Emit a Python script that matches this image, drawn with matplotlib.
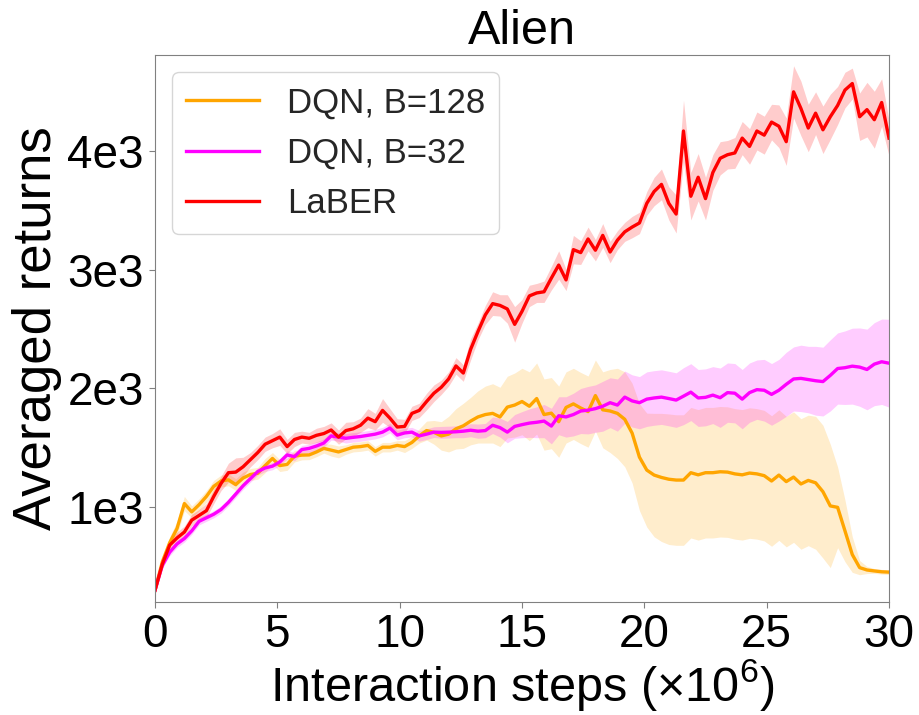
import numpy as np
from matplotlib import pyplot as plt
import matplotlib
matplotlib.rcParams['font.family'] = "sans-serif"
matplotlib.rcParams['font.sans-serif'] = ["Liberation Sans", "DejaVu Sans"]
matplotlib.rcParams['mathtext.fontset'] = 'custom'
matplotlib.rcParams['mathtext.rm'] = 'Liberation Sans'
matplotlib.rcParams['mathtext.it'] = 'Liberation Sans:italic'

### data (evaluation every 0.3M steps)
steps = np.arange(101) * 0.3

dqn128_mean = [300, 540, 700, 820, 1030, 960, 1020, 1090, 1175, 1220,
               1230, 1190, 1245, 1275, 1285, 1350, 1410, 1350, 1360, 1430,
               1438, 1440, 1465, 1495, 1480, 1465, 1485, 1505, 1510, 1520,
               1470, 1505, 1505, 1520, 1510, 1545, 1600, 1645, 1630, 1600,
               1615, 1660, 1685, 1725, 1760, 1780, 1790, 1760, 1843, 1860,
               1890, 1850, 1915, 1780, 1792, 1720, 1840, 1870, 1835, 1805,
               1940, 1820, 1810, 1790, 1740, 1624, 1421, 1312, 1270, 1250,
               1235, 1228, 1228, 1290, 1272, 1290, 1290, 1298, 1295, 1280,
               1272, 1287, 1280, 1265, 1220, 1270, 1215, 1253, 1195, 1225,
               1205, 1130, 1010, 998, 800, 600, 490, 470, 462, 455,
               452]
dqn128_std = [30, 40, 50, 60, 60, 50, 50, 50, 50, 50,
              50, 50, 50, 50, 50, 60, 50, 50, 50, 50,
              40, 40, 40, 40, 50, 50, 40, 40, 40, 40,
              40, 40, 40, 40, 50, 50, 60, 80, 100, 120,
              150, 170, 190, 200, 220, 240, 250, 250, 260, 270,
              280, 290, 300, 300, 300, 300, 300, 300, 300, 300,
              300, 320, 350, 380, 400, 420, 450, 480, 520, 540,
              550, 550, 550, 550, 550, 550, 550, 550, 550, 550,
              550, 550, 550, 550, 550, 550, 550, 550, 550, 550,
              560, 560, 520, 340, 260, 150, 60, 30, 20, 20,
              20]

dqn32_mean = [300, 510, 620, 690, 735, 800, 880, 910, 940, 980,
              1040, 1110, 1180, 1240, 1300, 1330, 1345, 1380, 1440, 1425,
              1485, 1495, 1515, 1540, 1600, 1590, 1580, 1588, 1595, 1605,
              1615, 1632, 1666, 1607, 1625, 1632, 1600, 1615, 1632, 1630,
              1632, 1635, 1640, 1648, 1640, 1645, 1690, 1670, 1632, 1680,
              1695, 1708, 1715, 1725, 1683, 1770, 1760, 1780, 1810, 1817,
              1830, 1850, 1880, 1860, 1927, 1895, 1880, 1910, 1920, 1927,
              1915, 1902, 1935, 1969, 1920, 1925, 1944, 1922, 1965, 1960,
              1910, 1965, 1990, 1985, 1950, 1985, 2035, 2080, 2085, 2075,
              2065, 2058, 2110, 2168, 2175, 2188, 2180, 2160, 2205, 2225,
              2213]
dqn32_std = [20, 25, 30, 30, 30, 30, 30, 30, 30, 30,
             30, 30, 30, 30, 30, 30, 30, 30, 35, 35,
             35, 35, 35, 35, 35, 35, 40, 40, 40, 40,
             40, 40, 40, 40, 40, 40, 45, 45, 45, 50,
             50, 50, 55, 55, 60, 60, 70, 80, 90, 100,
             110, 120, 130, 140, 150, 160, 170, 180, 190, 200,
             200, 210, 210, 220, 220, 220, 220, 230, 230, 230,
             230, 230, 240, 240, 240, 240, 240, 250, 250, 250,
             250, 250, 250, 260, 260, 260, 270, 270, 280, 280,
             290, 290, 300, 300, 310, 320, 330, 340, 350, 360,
             370]

laber_mean = [300, 520, 680, 740, 790, 890, 930, 970, 1090, 1200,
              1290, 1295, 1340, 1400, 1460, 1530, 1560, 1590, 1510, 1570,
              1590, 1580, 1605, 1620, 1650, 1590, 1645, 1660, 1690, 1750,
              1720, 1815, 1750, 1675, 1680, 1790, 1815, 1890, 1960, 2010,
              2080, 2190, 2130, 2330, 2480, 2620, 2715, 2700, 2670, 2540,
              2650, 2780, 2805, 2815, 2930, 3040, 2915, 3170, 3145, 3260,
              3165, 3290, 3150, 3250, 3320, 3360, 3395, 3560, 3660, 3720,
              3560, 3470, 4170, 3620, 3780, 3600, 3820, 3940, 3970, 3985,
              4110, 4040, 4170, 4135, 4245, 4210, 4080, 4500, 4360, 4195,
              4320, 4180, 4290, 4385, 4515, 4570, 4290, 4350, 4265, 4410,
              4110]
laber_std = [30, 40, 50, 50, 50, 50, 50, 60, 60, 60,
             80, 120, 80, 60, 60, 60, 60, 70, 60, 60,
             50, 50, 60, 60, 60, 60, 70, 60, 60, 80,
             70, 100, 80, 70, 60, 60, 60, 70, 70, 60,
             60, 70, 70, 90, 70, 80, 100, 90, 120, 150,
             100, 90, 80, 90, 100, 120, 90, 120, 100, 100,
             90, 100, 90, 80, 80, 90, 90, 100, 120, 130,
             140, 160, 260, 200, 200, 180, 150, 140, 120, 130,
             140, 150, 160, 160, 150, 180, 200, 220, 230, 200,
             180, 200, 190, 160, 150, 130, 200, 230, 240, 200,
             150]

series = [('DQN, B=128', dqn128_mean, dqn128_std, 'orange'),
          ('DQN, B=32', dqn32_mean, dqn32_std, 'magenta'),
          ('LaBER', laber_mean, laber_std, 'red')]

### plot
fig = plt.figure(figsize=(9.2, 7.15), dpi=100)
ax = fig.add_axes([0.1685, 0.158, 0.7978, 0.765])
for name, mean, std, col in series:
    mean = np.array(mean, dtype=float)
    std = np.array(std, dtype=float)
    ax.fill_between(steps, mean - std, mean + std, color=col, alpha=0.2, lw=0)
    ax.plot(steps, mean, color=col, lw=2.4, label=name)

ax.set_xlim(0, 30)
ax.set_ylim(200, 4810)
ax.set_xticks([0, 5, 10, 15, 20, 25, 30])
ax.set_yticks([1000, 2000, 3000, 4000])
ax.set_yticklabels(['1e3', '2e3', '3e3', '4e3'])
ax.tick_params(labelsize=33, length=4, color='gray', pad=4)
for s in ax.spines.values():
    s.set_color('gray')
ax.set_title('Alien', fontsize=35, pad=8)
ax.set_xlabel(r'Interaction steps ($\times10^6$)', fontsize=35, labelpad=0)
ax.set_ylabel('Averaged returns', fontsize=38, labelpad=4)
ax.legend(loc='upper left', fontsize=25, labelcolor='#262626',
          handlelength=2.1, handletextpad=0.8)

plt.savefig('out.png', dpi=100)
